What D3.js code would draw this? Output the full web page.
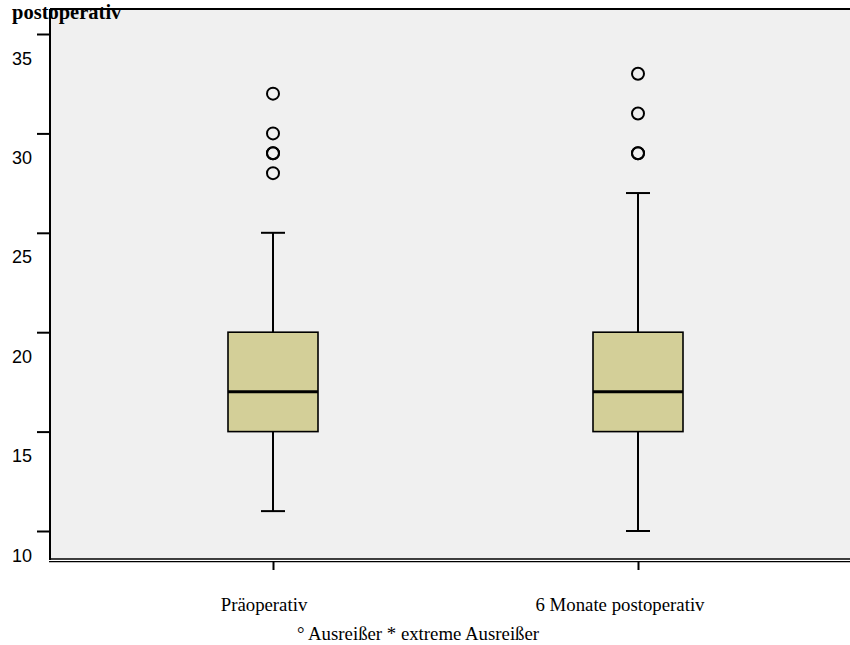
<!DOCTYPE html>
<html><head><meta charset="utf-8">
<script src="https://cdn.jsdelivr.net/npm/d3@7"></script>
<style>body{margin:0;background:#fff}svg{display:block}</style>
</head><body>
<script>
const categories = ["Präoperativ", "6 Monate postoperativ"];
const lowerWhisker = [11, 10];
const q1 = [15, 15];
const median = [17, 17];
const q3 = [20, 20];
const upperWhisker = [25, 27];
const outliers = [[32, 30, 29, 29, 28], [33, 31, 29, 29]];
const yTicks = [10, 15, 20, 25, 30, 35];
const titleText = "postoperativ";
const footnote = "° Ausreißer * extreme Ausreißer";

const W = 850, H = 645;
const svg = d3.select("body").append("svg").attr("width", W).attr("height", H);

const plot = {left: 50, right: 850, top: 9, bottom: 559};
const y = d3.scaleLinear().domain([10, 35]).range([531, 34]);
const x = d3.scalePoint().domain(categories).range([273, 638]);
const boxHalf = 45, capHalf = 12;
const labelShift = [-9, -18];
const serif = "Liberation Serif, Times New Roman, serif";

svg.append("rect").attr("x", plot.left).attr("y", plot.top)
  .attr("width", plot.right - plot.left).attr("height", plot.bottom - plot.top)
  .attr("fill", "#f0f0f0");

// borders
svg.append("line").attr("x1", plot.left).attr("x2", plot.right).attr("y1", plot.top).attr("y2", plot.top)
  .attr("stroke", "#000").attr("stroke-width", 2);
svg.append("line").attr("x1", plot.left).attr("x2", plot.left).attr("y1", plot.top).attr("y2", plot.bottom + 1)
  .attr("stroke", "#000").attr("stroke-width", 2);
svg.append("line").attr("x1", plot.left - 1).attr("x2", plot.right).attr("y1", plot.bottom).attr("y2", plot.bottom)
  .attr("stroke", "#000").attr("stroke-width", 1.3);
svg.append("line").attr("x1", plot.left - 1).attr("x2", plot.right).attr("y1", plot.bottom + 2.6).attr("y2", plot.bottom + 2.6)
  .attr("stroke", "#000").attr("stroke-width", 1.3);

// y axis ticks
const yAxis = d3.axisLeft(y).tickValues(yTicks).tickSize(13).tickFormat(d3.format("d"));
const ya = svg.append("g").attr("transform", `translate(${plot.left},0)`).call(yAxis);
ya.select(".domain").remove();
ya.selectAll(".tick line").attr("stroke", "#000").attr("stroke-width", 2);
ya.selectAll(".tick text").attr("x", -18).attr("dy", "30px").attr("text-anchor", "end")
  .attr("font-family", "Liberation Sans, Arial, sans-serif").attr("font-size", 18).attr("fill", "#000");

// x axis ticks
const xAxis = d3.axisBottom(x).tickSize(9).tickFormat("");
const xa = svg.append("g").attr("transform", `translate(0,${plot.bottom + 2})`).call(xAxis);
xa.select(".domain").remove();
xa.selectAll(".tick line").attr("stroke", "#000").attr("stroke-width", 2);

svg.selectAll(".cat").data(categories).join("text")
  .attr("x", (d, i) => x(d) + labelShift[i]).attr("y", 611).attr("text-anchor", "middle")
  .attr("font-family", serif).attr("font-size", 18.8).attr("fill", "#000")
  .text(d => d);

// boxes
const g = svg.append("g");
categories.forEach((c, i) => {
  const cx = x(c);
  g.append("line").attr("x1", cx).attr("x2", cx).attr("y1", y(upperWhisker[i])).attr("y2", y(q3[i]))
    .attr("stroke", "#000").attr("stroke-width", 2);
  g.append("line").attr("x1", cx).attr("x2", cx).attr("y1", y(q1[i])).attr("y2", y(lowerWhisker[i]))
    .attr("stroke", "#000").attr("stroke-width", 2);
  g.append("line").attr("x1", cx - capHalf).attr("x2", cx + capHalf).attr("y1", y(upperWhisker[i])).attr("y2", y(upperWhisker[i]))
    .attr("stroke", "#000").attr("stroke-width", 2);
  g.append("line").attr("x1", cx - capHalf).attr("x2", cx + capHalf).attr("y1", y(lowerWhisker[i])).attr("y2", y(lowerWhisker[i]))
    .attr("stroke", "#000").attr("stroke-width", 2);
  g.append("rect").attr("x", cx - boxHalf).attr("y", y(q3[i])).attr("width", boxHalf * 2)
    .attr("height", y(q1[i]) - y(q3[i])).attr("fill", "#d3cf98").attr("stroke", "#000").attr("stroke-width", 1.6);
  g.append("line").attr("x1", cx - boxHalf).attr("x2", cx + boxHalf).attr("y1", y(median[i])).attr("y2", y(median[i]))
    .attr("stroke", "#000").attr("stroke-width", 3);
  g.selectAll(null).data(outliers[i]).join("circle")
    .attr("cx", cx).attr("cy", d => y(d)).attr("r", 6)
    .attr("fill", "none").attr("stroke", "#000").attr("stroke-width", 2);
});

svg.append("text").attr("x", 418).attr("y", 640).attr("text-anchor", "middle")
  .attr("font-family", serif).attr("font-size", 18.8).attr("fill", "#000")
  .text(footnote);

svg.append("text").attr("x", 12).attr("y", 18.5)
  .attr("font-family", serif).attr("font-weight", "bold").attr("font-size", 20.5).attr("fill", "#000")
  .text(titleText);
</script>
</body></html>
